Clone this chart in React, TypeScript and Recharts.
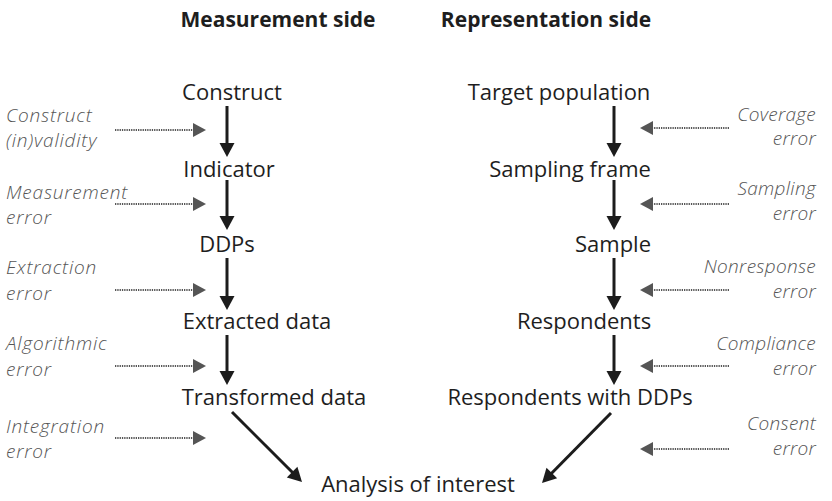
import { ScatterChart, Scatter, XAxis, YAxis, ReferenceLine } from 'recharts';

// diagram space: same units as the 832x501 picture, y grows downwards
const headers = ['Measurement side', 'Representation side'];
const headerX = [278, 546];
const headerY = [27, 27];

const measureNodes = ['Construct', 'Indicator', 'DDPs', 'Extracted data', 'Transformed data'];
const measureNodeX = [232, 229, 227, 257, 274];
const representNodes = ['Target population', 'Sampling frame', 'Sample', 'Respondents', 'Respondents with DDPs'];
const representNodeX = [559, 570, 613, 584, 570];
const nodeY = [100, 177, 252, 329, 405];

const outcome = 'Analysis of interest';
const outcomeX = 418;
const outcomeY = 492;

const measureErrors = [
  ['Construct', '(in)validity'],
  ['Measurement', 'error'],
  ['Extraction', 'error'],
  ['Algorithmic', 'error'],
  ['Integration', 'error'],
];
const measureErrorY = [[122, 147], [199, 224], [274, 300], [350, 376], [433, 458]];
const measureErrorX = 6;

const representErrors = [
  ['Coverage', 'error'],
  ['Sampling', 'error'],
  ['Nonresponse', 'error'],
  ['Compliance', 'error'],
  ['Consent', 'error'],
];
const representErrorY = [[121, 145], [195, 220], [273, 298], [350, 375], [430, 455]];
const representErrorX = 816;

// flow arrows between nodes
const flowY = [[106, 157], [180, 230], [258, 310], [335, 385]];
const measureFlowX = 227;
const representFlowX = 614;
const measureToOutcome = [[232, 412], [302, 482]];
const representToOutcome = [[611, 413], [542, 483]];

// dotted error arrows
const measureErrorArrowY = [130, 204, 290, 366, 438];
const measureErrorArrowX = [115, 206];
const representErrorArrowY = [128, 204, 290, 366, 449];
const representErrorArrowX = [729, 640];

const FONT = '"Open Sans", "Noto Sans", sans-serif';

const toPoints = (labels: string[], xs: number[], ys: number[]) =>
  labels.map((label, i) => ({ x: xs[i], y: ys[i], label }));

const headerData = toPoints(headers, headerX, headerY);
const nodeData = [
  ...toPoints(measureNodes, measureNodeX, nodeY),
  ...toPoints(representNodes, representNodeX, nodeY),
  { x: outcomeX, y: outcomeY, label: outcome },
];
const leftErrorData = measureErrors.flatMap((lines, i) =>
  lines.map((label, j) => ({ x: measureErrorX, y: measureErrorY[i][j], label }))
);
const rightErrorData = representErrors.flatMap((lines, i) =>
  lines.map((label, j) => ({ x: representErrorX, y: representErrorY[i][j], label }))
);

const textShape = (style: any) => (p: any) => (
  <text x={p.cx} y={p.cy} fontFamily={FONT} {...style}>
    {p.payload.label}
  </text>
);

const arrowShape = (dotted: boolean) => (p: any) => {
  const { x1, y1, x2, y2 } = p;
  const len = Math.hypot(x2 - x1, y2 - y1);
  const ux = (x2 - x1) / len;
  const uy = (y2 - y1) / len;
  const hl = dotted ? 13 : 14;
  const hw = dotted ? 7 : 7.5;
  const bx = x2 - ux * hl;
  const by = y2 - uy * hl;
  const color = dotted ? '#555' : '#1c1c1c';
  return (
    <g>
      <line
        x1={x1}
        y1={y1}
        x2={bx + ux}
        y2={by + uy}
        stroke={color}
        strokeWidth={dotted ? 2 : 3}
        strokeDasharray={dotted ? '1.3 1' : undefined}
      />
      <polygon
        points={`${x2},${y2} ${bx - uy * hw},${by + ux * hw} ${bx + uy * hw},${by - ux * hw}`}
        fill={color}
      />
    </g>
  );
};

const solidArrow = arrowShape(false);
const dottedArrow = arrowShape(true);

export default function App() {
  return (
    <>
      <style>{'body{margin:0;background:#fff}'}</style>
      <ScatterChart width={832} height={501} margin={{ top: 0, right: 0, bottom: 0, left: 0 }}>
        <XAxis type="number" dataKey="x" domain={[0, 832]} hide allowDataOverflow />
        <YAxis type="number" dataKey="y" domain={[0, 501]} reversed hide allowDataOverflow />

        {flowY.map(([a, b], i) => (
          <ReferenceLine
            key={`mf${i}`}
            segment={[{ x: measureFlowX, y: a }, { x: measureFlowX, y: b }]}
            shape={solidArrow}
          />
        ))}
        {flowY.map(([a, b], i) => (
          <ReferenceLine
            key={`rf${i}`}
            segment={[{ x: representFlowX, y: a }, { x: representFlowX, y: b }]}
            shape={solidArrow}
          />
        ))}
        <ReferenceLine
          segment={[
            { x: measureToOutcome[0][0], y: measureToOutcome[0][1] },
            { x: measureToOutcome[1][0], y: measureToOutcome[1][1] },
          ]}
          shape={solidArrow}
        />
        <ReferenceLine
          segment={[
            { x: representToOutcome[0][0], y: representToOutcome[0][1] },
            { x: representToOutcome[1][0], y: representToOutcome[1][1] },
          ]}
          shape={solidArrow}
        />
        {measureErrorArrowY.map((y, i) => (
          <ReferenceLine
            key={`me${i}`}
            segment={[{ x: measureErrorArrowX[0], y }, { x: measureErrorArrowX[1], y }]}
            shape={dottedArrow}
          />
        ))}
        {representErrorArrowY.map((y, i) => (
          <ReferenceLine
            key={`re${i}`}
            segment={[{ x: representErrorArrowX[0], y }, { x: representErrorArrowX[1], y }]}
            shape={dottedArrow}
          />
        ))}

        <Scatter
          data={headerData}
          isAnimationActive={false}
          shape={textShape({ fontSize: 21, fontWeight: 700, fill: '#1e1e1e', textAnchor: 'middle' })}
        />
        <Scatter
          data={nodeData}
          isAnimationActive={false}
          shape={textShape({ fontSize: 22, fill: '#1e1e1e', textAnchor: 'middle' })}
        />
        <Scatter
          data={leftErrorData}
          isAnimationActive={false}
          shape={textShape({ fontSize: 19, fontWeight: 300, fontStyle: 'italic', fill: '#555', textAnchor: 'start', letterSpacing: 0.8 })}
        />
        <Scatter
          data={rightErrorData}
          isAnimationActive={false}
          shape={textShape({ fontSize: 19, fontWeight: 300, fontStyle: 'italic', fill: '#555', textAnchor: 'end', letterSpacing: 0.3 })}
        />
      </ScatterChart>
    </>
  );
}
